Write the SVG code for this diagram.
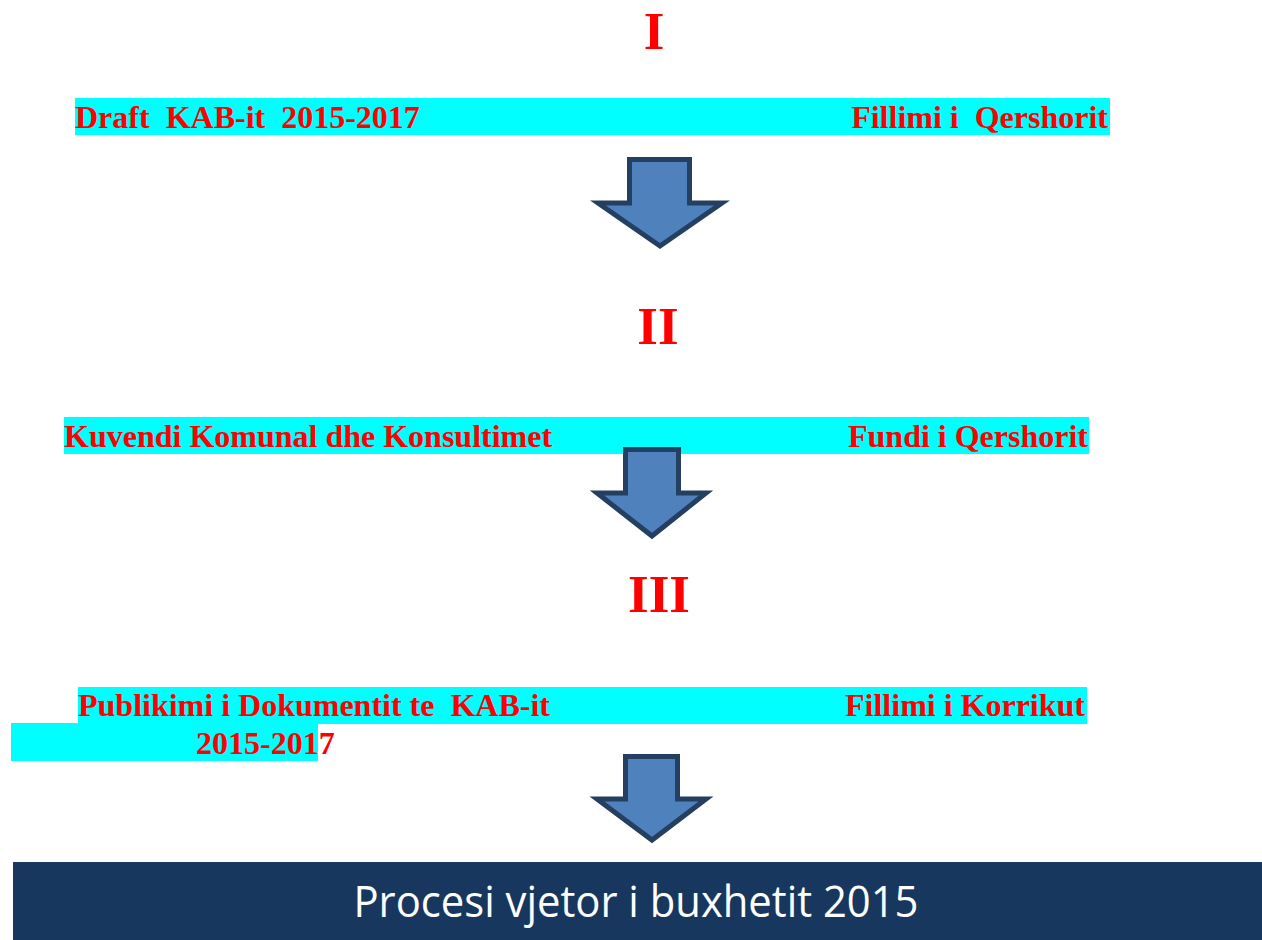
<svg xmlns="http://www.w3.org/2000/svg" width="1262" height="940" viewBox="0 0 1262 940">
<style>
.bar{fill:#00FFFF}
.t{font-family:"Liberation Serif",serif;font-weight:bold;font-size:32px;fill:#FF0000;white-space:pre}
.num{font-family:"Liberation Serif",serif;font-weight:bold;font-size:53px;fill:#FF0000;text-anchor:middle}
.arrow{fill:#4F81BD;stroke:#243F60;stroke-width:5;stroke-linejoin:miter}
.title{font-family:"Open Sans",sans-serif;font-size:43px;fill:#FFFFFF;text-anchor:middle}
</style>
<rect width="1262" height="940" fill="#FFFFFF"/>
<g id="step1">
<text class="num" x="654" y="49">I</text>
<rect class="bar" x="75" y="98" width="1035" height="37"/>
<text class="t" x="75" y="128" xml:space="preserve">Draft  KAB-it  2015-2017</text>
<text class="t" x="1108" y="128" text-anchor="end" xml:space="preserve">Fillimi i  Qershorit</text>
</g>
<g id="step2">
<text class="num" x="658" y="344">II</text>
<rect class="bar" x="64" y="417" width="1025" height="37"/>
<text class="t" x="64" y="447">Kuvendi Komunal dhe Konsultimet</text>
<text class="t" x="1088" y="447" text-anchor="end">Fundi i Qershorit</text>
</g>
<g id="step3">
<text class="num" x="659" y="612">III</text>
<rect class="bar" x="78" y="687" width="1009" height="37"/>
<rect class="bar" x="11" y="723" width="307" height="38"/>
<text class="t" x="78" y="716" xml:space="preserve">Publikimi i Dokumentit te  KAB-it</text>
<text class="t" x="196" y="754">2015-2017</text>
<text class="t" x="1085" y="716" text-anchor="end">Fillimi i Korrikut</text>
</g>
<g id="connectors">
<polygon class="arrow" points="629.5,159.5 689.5,159.5 689.5,203 722,203 660,246 598,203 629.5,203"/>
<polygon class="arrow" points="625.5,449.5 678.5,449.5 678.5,493 706,493 652,536 597,493 625.5,493"/>
<polygon class="arrow" points="625.5,756.5 677.5,756.5 677.5,799 706,799 652,840 597,799 625.5,799"/>
</g>
<g id="footer">
<rect x="13" y="862" width="1249" height="78" fill="#17375E"/>
<text class="title" x="636" y="917" textLength="565" lengthAdjust="spacingAndGlyphs">Procesi vjetor i buxhetit 2015</text>
</g>
</svg>
